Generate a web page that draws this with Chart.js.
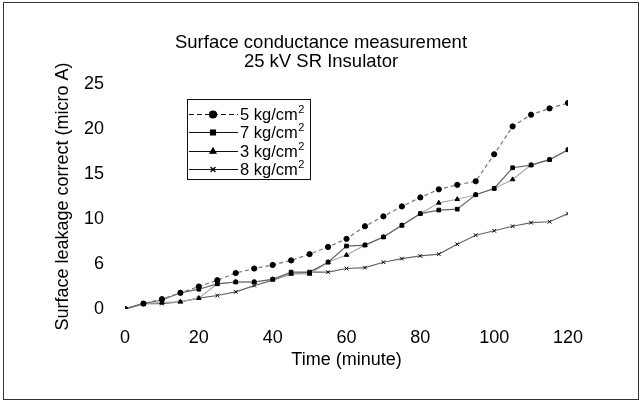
<!DOCTYPE html>
<html><head><meta charset="utf-8">
<script src="https://cdn.jsdelivr.net/npm/chart.js@4"></script>
<style>html,body{margin:0;padding:0;background:#fff}#wrap{width:642px;height:403px}</style>
</head><body><div id="wrap"><canvas id="c" width="642" height="403"></canvas></div>
<script>
// ---- data ----
const minutes  = [0,5,10,15,20,25,30,35,40,45,50,55,60,65,70,75,80,85,90,95,100,105,110,115,120];
const series5  = [0,0.6,1.1,1.8,2.5,3.2,4.0,4.5,4.9,5.4,6.1,6.9,7.8,9.2,10.3,11.4,12.4,13.3,13.8,14.2,17.2,20.3,21.6,22.3,22.9];
const series7  = [0,0.6,1.0,1.8,2.2,2.8,3.0,3.0,3.3,4.1,4.1,5.2,7.0,7.1,8.0,9.3,10.6,11.0,11.1,12.7,13.4,15.7,16.0,16.6,17.7];
const series3  = [0,0.6,0.7,0.8,1.2,2.8,3.0,3.0,3.3,3.9,3.9,5.2,6.0,7.1,8.0,9.3,10.6,11.8,12.2,12.7,13.4,14.4,16.0,16.6,17.7];
const series8  = [0,0.6,0.6,0.8,1.2,1.5,1.9,2.6,3.2,3.9,4.1,4.1,4.5,4.6,5.2,5.6,5.9,6.1,7.2,8.2,8.7,9.2,9.6,9.7,10.6];
const seriesLabels = ['5 kg/cm\u00B2','7 kg/cm\u00B2','3 kg/cm\u00B2','8 kg/cm\u00B2'];
const xTickLabels = ['0','20','40','60','80','100','120'];
const yTickLabels = ['0','6','10','15','20','25'];
const titleLines = ['Surface conductance measurement','25 kV SR Insulator'];
const xTitle = 'Time (minute)';
const yTitle = 'Surface leakage correct (micro A)';

const FONT = '"Liberation Sans", Arial, sans-serif';
const toPts = arr => minutes.map((m, i) => ({x: m, y: arr[i]}));

const legendPlugin = {
  id: 'boxLegend',
  afterDraw(chart) {
    const ctx = chart.ctx;
    ctx.save();
    // outer frame
    ctx.strokeStyle = '#333';
    ctx.lineWidth = 1;
    ctx.strokeRect(3.5, 2.5, 635, 397);
    // legend box
    ctx.strokeStyle = '#111';
    ctx.strokeRect(187.5, 99.5, 123, 80);
    const rows = [114, 132, 151, 169];
    chart.data.datasets.forEach((ds, i) => {
      const y = rows[i];
      ctx.strokeStyle = '#111';
      ctx.lineWidth = 1.2;
      ctx.setLineDash(ds.legendDash || []);
      ctx.beginPath();
      ctx.moveTo(189, y + 0.5);
      ctx.lineTo(238, y + 0.5);
      ctx.stroke();
      ctx.setLineDash([]);
      ctx.fillStyle = '#000';
      ctx.strokeStyle = '#000';
      Chart.helpers.drawPoint(ctx, {pointStyle: ds.pointStyle, radius: 3.5, rotation: 0, borderWidth: 1.5}, 213, y + 0.5);
      const base = ds.label.replace('\u00B2', '');
      ctx.font = '16.5px ' + FONT;
      ctx.textBaseline = 'alphabetic';
      ctx.textAlign = 'left';
      ctx.fillStyle = '#000';
      ctx.fillText(base, 240, y + 6);
      const w = ctx.measureText(base).width;
      ctx.font = '11px ' + FONT;
      ctx.fillText('2', 240 + w + 0.5, y - 1);
    });
    ctx.restore();
  }
};

const mk = (label, arr, style, dash, legendDash, lineColor) => ({
  label, data: toPts(arr), pointStyle: style, borderDash: dash, legendDash,
  borderColor: lineColor, borderWidth: 1.2, backgroundColor: '#000',
  pointBackgroundColor: '#000', pointBorderColor: '#000', pointRadius: 2.6,
  pointBorderWidth: 1, tension: 0, fill: false, yAxisID: 'y'
});

new Chart(document.getElementById('c'), {
  type: 'line',
  data: {
    datasets: [
      mk(seriesLabels[0], series5, 'circle', [4, 3], [5, 3], '#777'),
      mk(seriesLabels[1], series7, 'rect', [], [], '#666'),
      mk(seriesLabels[2], series3, 'triangle', [], [], '#aaa'),
      mk(seriesLabels[3], series8, 'crossRot', [], [], '#666')
    ]
  },
  options: {
    responsive: false, animation: false, devicePixelRatio: 1,
    layout: {padding: 0},
    plugins: {
      legend: {display: false},
      tooltip: {enabled: false},
      title: {display: true, text: titleLines, color: '#000',
        font: {family: FONT, size: 18.5, weight: 'normal', lineHeight: 1.03},
        padding: {top: 33, bottom: 13}}
    },
    scales: {
      x: {type: 'linear', min: 0, max: 120,
        grid: {display: false}, border: {display: false},
        ticks: {stepSize: 20, padding: 10, color: '#000', maxRotation: 0,
          font: {family: FONT, size: 18}, callback: (v, i) => xTickLabels[i]},
        title: {display: true, text: xTitle, color: '#000',
          font: {family: FONT, size: 18}, padding: {top: 0, bottom: 32}},
        afterFit: s => { s.height = 94; }
      },
      y: {min: 0, max: 25,
        grid: {display: false}, border: {display: false},
        ticks: {stepSize: 5, padding: 13, color: '#000',
          font: {family: FONT, size: 18}, callback: (v, i) => yTickLabels[i]},
        title: {display: true, text: yTitle, color: '#000',
          font: {family: FONT, size: 18}, padding: {top: 52, bottom: 0}},
        afterFit: s => { s.width = 125; }
      },
      yRight: {position: 'right', min: 0, max: 25, display: true,
        grid: {display: false}, border: {display: false},
        ticks: {display: false}, title: {display: false},
        afterFit: s => { s.width = 74; }
      }
    }
  },
  plugins: [legendPlugin]
});
</script></body></html>
